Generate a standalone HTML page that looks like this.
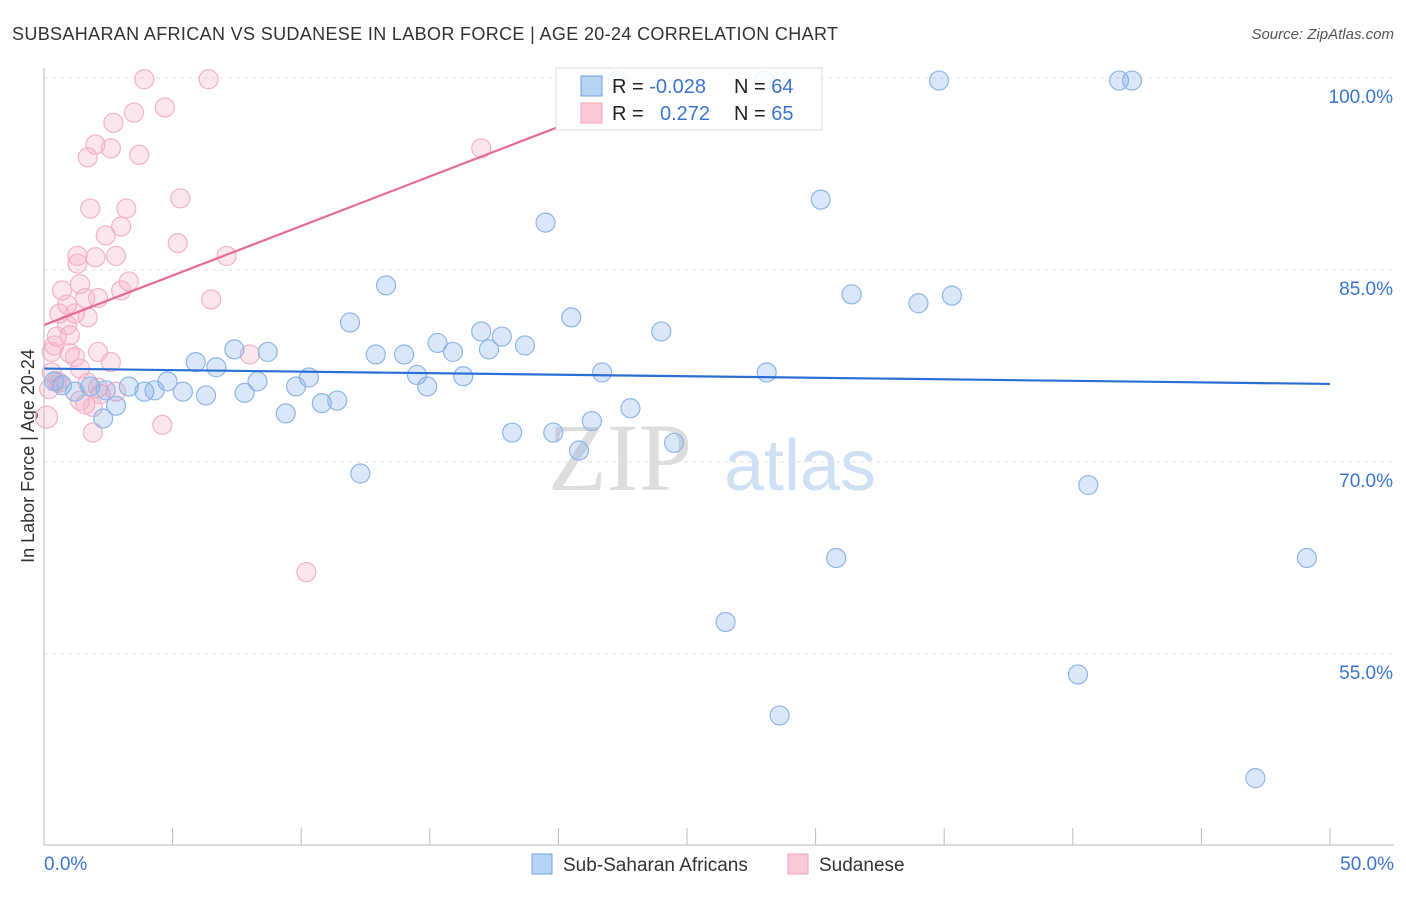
<!DOCTYPE html>
<html><head><meta charset="utf-8"><style>
body{margin:0;background:#fff;font-family:"Liberation Sans",sans-serif;}
</style></head><body>
<svg id="c" width="1406" height="892" xmlns="http://www.w3.org/2000/svg">
<text x="12" y="40" font-size="18" fill="#333" textLength="826" lengthAdjust="spacing">SUBSAHARAN AFRICAN VS SUDANESE IN LABOR FORCE | AGE 20-24 CORRELATION CHART</text>
<text x="1394" y="39" font-size="15" fill="#555" text-anchor="end" font-style="italic">Source: ZipAtlas.com</text>
<text transform="translate(34,456) rotate(-90)" font-size="18" fill="#333" text-anchor="middle">In Labor Force | Age 20-24</text>
<text x="620" y="490" font-size="96" fill="#ddd" text-anchor="middle" font-family="Liberation Serif,serif">ZIP</text>
<text x="800" y="490" font-size="72" fill="#cfe0f4" text-anchor="middle">atlas</text>
<g id="grid"></g><g id="pts"></g><g id="lines"></g>
<line x1="44" y1="68" x2="44" y2="845" stroke="#bbb"/>
<line x1="44" y1="845" x2="1394" y2="845" stroke="#bbb"/>
<text x="44" y="870" font-size="19" fill="#3a76d0">0.0%</text>
<text x="1394" y="870" font-size="19" fill="#3a76d0" text-anchor="end">50.0%</text>
<rect x="532" y="854" width="20" height="20" fill="#b8d4f5" stroke="#6fa0e0"/>
<text x="563" y="871" font-size="19" fill="#333">Sub-Saharan Africans</text>
<rect x="788" y="854" width="20" height="20" fill="#fbcad8" stroke="#f0a0b8"/>
<text x="819" y="871" font-size="19" fill="#333">Sudanese</text>
<g>
<rect x="556" y="68" width="266" height="62" fill="#fff" fill-opacity="0.85" stroke="#ddd"/>
<rect x="581" y="76" width="21" height="20" fill="#b8d4f5" stroke="#6fa0e0"/>
<rect x="581" y="103" width="21" height="20" fill="#fbcad8" stroke="#f0a0b8"/>
<text x="612" y="93" font-size="20" fill="#222">R = <tspan fill="#3a76d0">-0.028</tspan><tspan x="734">N = </tspan><tspan fill="#3a76d0">64</tspan></text>
<text x="612" y="120" font-size="20" fill="#222">R = <tspan x="660" fill="#3a76d0">0.272</tspan><tspan x="734">N = </tspan><tspan fill="#3a76d0">65</tspan></text>
</g>
</svg>
<script>
const yTicks=[100,85,70,55];
const xTicks=[0,5,10,15,20,25,30,35,40,45,50];
const blueX=[22.3,28.0,34.8,41.8,42.3,19.5,30.2,13.3,31.4,34.0,35.3,11.9,20.5,24.0,17.0,17.8,15.3,18.7,15.9,17.3,7.4,8.7,12.9,14.0,5.9,6.7,14.5,16.3,21.7,28.1,4.8,8.3,10.3,9.8,14.9,3.3,3.9,4.3,5.4,6.3,7.8,1.8,2.4,0.7,1.2,0.4,10.8,11.4,2.8,9.4,2.3,22.8,21.3,18.2,19.8,20.8,24.5,12.3,40.6,30.8,49.1,26.5,40.2,28.6,47.1];
const blueY=[99.8,99.8,99.8,99.8,99.8,88.7,90.5,83.8,83.1,82.4,83.0,80.9,81.3,80.2,80.2,79.8,79.3,79.1,78.6,78.8,78.8,78.6,78.4,78.4,77.8,77.4,76.8,76.7,77.0,77.0,76.3,76.3,76.6,75.9,75.9,75.9,75.5,75.6,75.5,75.2,75.4,75.9,75.6,76.0,75.5,76.3,74.6,74.8,74.4,73.8,73.4,74.2,73.2,72.3,72.3,70.9,71.5,69.1,68.2,62.5,62.5,57.5,53.4,50.2,45.3];
const pinkX=[3.9,6.4,3.5,4.7,2.7,1.7,2.0,2.6,3.7,17.0,5.3,1.8,3.2,3.0,2.4,5.2,1.3,1.3,2.0,2.8,7.1,1.4,3.3,3.0,0.7,1.6,2.1,0.9,6.5,0.6,1.2,1.7,0.9,0.5,1.0,0.4,0.3,1.0,2.1,8.0,1.2,2.6,1.4,0.3,0.5,1.7,0.2,2.1,2.8,2.2,1.4,1.6,1.9,0.1,4.6,1.9,10.2,0.6];
const pinkY=[99.9,99.9,97.3,97.7,96.5,93.8,94.8,94.5,94.0,94.5,90.6,89.8,89.8,88.4,87.7,87.1,86.1,85.5,86.0,86.1,86.1,83.9,84.1,83.4,83.4,82.8,82.8,82.3,82.7,81.6,81.6,81.3,80.7,79.8,79.9,79.1,78.6,78.5,78.6,78.4,78.2,77.8,77.3,77.0,76.3,76.2,75.7,75.8,75.5,75.3,74.8,74.5,74.3,73.5,72.9,72.3,61.4,76.2];
const blueTrend=[77.3,76.1];
const pinkTrend=[80.7,96.1,19.9];
const NS="http://www.w3.org/2000/svg";
const xs=v=>44+v/50*1286, ys=v=>78+(100-v)*12.8;
function mk(t,a,p){const e=document.createElementNS(NS,t);for(const k in a)e.setAttribute(k,a[k]);p.appendChild(e);return e;}
const grid=document.getElementById('grid'),pts=document.getElementById('pts'),lines=document.getElementById('lines');
yTicks.forEach(v=>{
 const l=mk('line',{x1:44,x2:1394,y1:ys(v),y2:ys(v),stroke:'#e2e2e2','stroke-dasharray':'4,4'},grid);
 
 
 const t=mk('text',{x:1393,y:ys(v)+25,'font-size':19,fill:'#3a76d0','text-anchor':'end'},grid);
 t.textContent=v.toFixed(1)+'%';
 
 
});
xTicks.forEach(v=>{
 const l=mk('line',{x1:xs(v),x2:xs(v),y1:828,y2:845,stroke:'#bbb'},grid);
 
 
});
pinkX.forEach((x,i)=>{
 const c=mk('circle',{cx:xs(x),cy:ys(pinkY[i]),r:(i==53?11:9.5),fill:'rgba(245,165,190,0.28)',stroke:'#f3b2c6','stroke-width':1.2},pts);
 
 
});
blueX.forEach((x,i)=>{
 const c=mk('circle',{cx:xs(x),cy:ys(blueY[i]),r:9.5,fill:'rgba(120,170,230,0.28)',stroke:'#8fb6e8','stroke-width':1.2},pts);
 
 
});
const bl=mk('line',{x1:xs(0),y1:ys(blueTrend[0]),x2:xs(50),y2:ys(blueTrend[1]),stroke:'#2a6fd6','stroke-width':2.2},lines);


const pl=mk('line',{x1:xs(0),y1:ys(pinkTrend[0]),x2:xs(pinkTrend[2]),y2:ys(pinkTrend[1]),stroke:'#e86a95','stroke-width':2.2},lines);


</script>
</body></html>
